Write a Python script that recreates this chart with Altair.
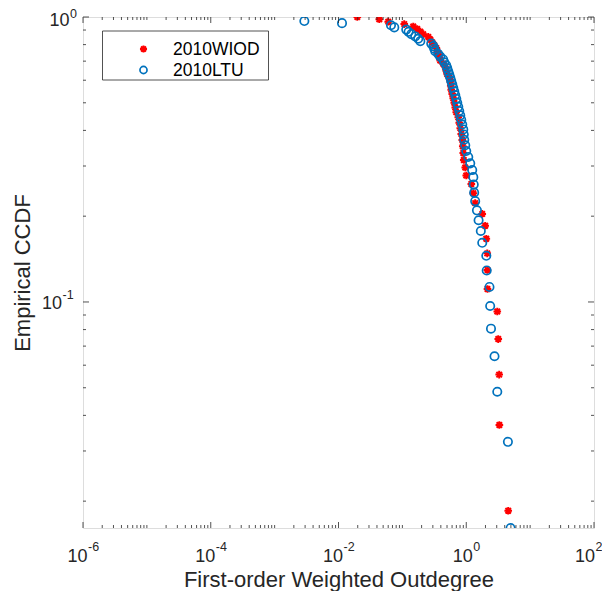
import altair as alt
import pandas as pd

# ---------------- data ----------------
wiod_x = [0.0197, 0.0435, 0.0601, 0.107, 0.148, 0.171, 0.191, 0.212, 0.254, 0.273,
          0.294, 0.316, 0.340, 0.352, 0.365, 0.378, 0.392, 0.436, 0.469, 0.486,
          0.504, 0.542, 0.562, 0.572, 0.582, 0.604, 0.626, 0.649, 0.673, 0.698,
          0.750, 0.777, 0.806, 0.835, 0.866, 0.882, 0.898, 0.914, 0.965, 1.00,
          1.20, 1.29, 1.38, 1.78, 1.98, 2.06, 2.13, 2.14, 2.15, 3.06,
          3.17, 3.28, 3.30, 4.54]
wiod_y = [1.0, 0.9815, 0.9630, 0.9444, 0.9259, 0.9074, 0.8889, 0.8704, 0.8519, 0.8333,
          0.8148, 0.7963, 0.7778, 0.7593, 0.7407, 0.7222, 0.7037, 0.6852, 0.6667, 0.6481,
          0.6296, 0.6111, 0.5926, 0.5741, 0.5556, 0.5370, 0.5185, 0.5000, 0.4815, 0.4630,
          0.4444, 0.4259, 0.4074, 0.3889, 0.3704, 0.3519, 0.3333, 0.3148, 0.2963, 0.2778,
          0.2593, 0.2407, 0.2222, 0.2037, 0.1852, 0.1667, 0.1481, 0.1296, 0.1111, 0.0926,
          0.0741, 0.0556, 0.0370, 0.0185]

ltu_x = [0.00292, 0.01135, 0.0663, 0.0747, 0.115, 0.125, 0.138, 0.159, 0.177, 0.191,
         0.283, 0.305, 0.316, 0.327, 0.365, 0.392, 0.436, 0.453, 0.486, 0.504,
         0.523, 0.542, 0.562, 0.582, 0.604, 0.626, 0.649, 0.673, 0.698, 0.723,
         0.750, 0.777, 0.806, 0.835, 0.866, 0.898, 0.914, 0.930, 0.965, 1.00,
         1.075, 1.155, 1.24, 1.29, 1.31, 1.33, 1.38, 1.47, 1.56, 1.69,
         1.78, 2.06, 2.09, 2.31, 2.37, 2.44, 2.77, 3.06, 4.49, 4.94]
ltu_y = [0.9677, 0.9516, 0.9355, 0.9194, 0.9032, 0.8871, 0.8710, 0.8548, 0.8387, 0.8226,
         0.8065, 0.7903, 0.7742, 0.7581, 0.7419, 0.7258, 0.7097, 0.6935, 0.6774, 0.6613,
         0.6452, 0.6290, 0.6129, 0.5968, 0.5806, 0.5645, 0.5484, 0.5323, 0.5161, 0.5000,
         0.4839, 0.4677, 0.4516, 0.4355, 0.4194, 0.4032, 0.3871, 0.3710, 0.3548, 0.3387,
         0.3226, 0.3065, 0.2903, 0.2742, 0.2581, 0.2419, 0.2258, 0.2097, 0.1935, 0.1774,
         0.1613, 0.1452, 0.1290, 0.1129, 0.0968, 0.0806, 0.0645, 0.0484, 0.0323, 0.0161]

series_names = ["2010WIOD", "2010LTU"]

# tick labels: base "10" with an exponent
x_label_values = [1e-6, 1e-4, 1e-2, 1.0, 1e2]
x_label_exps = ["-6", "-4", "-2", "0", "2"]
y_label_values = [0.1, 1.0]
y_label_exps = ["-1", "0"]

x_title = "First-order Weighted Outdegree"
y_title = "Empirical CCDF"

# ---------------- styling ----------------
W, H = 511, 511
FONT = "Liberation Sans"
INK = "#262626"
RED = "#FF0000"
BLUE = "#0072BD"
ASTERISK = "M0,-1L0,1M-1,0L1,0M-0.72,-0.72L0.72,0.72M-0.72,0.72L0.72,-0.72"
BASE_FS = 18
EXP_FS = 12.5

XDOM = [1e-6, 1e2]
YDOM = [0.0161, 1.0]
xscale = alt.Scale(type="log", domain=XDOM, nice=False)
yscale = alt.Scale(type="log", domain=YDOM, nice=False)

x_axis = alt.Axis(values=x_label_values, labels=False, ticks=False, domain=False, grid=False,
                  title=x_title, titleFont=FONT, titleFontSize=22, titleFontWeight="normal",
                  titleColor=INK, titleX=W / 2, titleY=58, titleBaseline="alphabetic",
                  titleAlign="center")
y_axis = alt.Axis(values=y_label_values, labels=False, ticks=False, domain=False, grid=False,
                  title=y_title, titleFont=FONT, titleFontSize=22, titleFontWeight="normal",
                  titleColor=INK, titleX=-53.5, titleY=H / 2, titleAngle=-90,
                  titleBaseline="alphabetic", titleAlign="center")

X = lambda: alt.X("x:Q", scale=xscale, axis=x_axis, title=x_title)
Y = lambda: alt.Y("y:Q", scale=yscale, axis=y_axis, title=y_title)

df_w = pd.DataFrame({"x": wiod_x, "y": wiod_y, "s": series_names[0]})
df_l = pd.DataFrame({"x": ltu_x, "y": ltu_y, "s": series_names[1]})

red_layer = alt.Chart(df_w).mark_point(shape=ASTERISK, filled=False, stroke=RED,
                                       strokeWidth=2.0, size=58, opacity=1, clip=True).encode(
    x=X(), y=Y())
blue_layer = alt.Chart(df_l).mark_point(shape="circle", filled=False, stroke=BLUE,
                                        strokeWidth=1.7, size=70, opacity=1, clip=True).encode(
    x=X(), y=Y())

# ---------------- inner tick marks (box style) ----------------
x_major = [1e-6, 1e-4, 1e-2, 1.0, 1e2]
x_minor = [m * 10.0 ** e for e in range(-6, 2) for m in range(1, 10)
           if not (m == 1 and 10.0 ** e in x_major)]
y_major = [0.1, 1.0]
y_minor = [m * 10.0 ** e for e in (-2, -1) for m in range(2, 10) if m * 10.0 ** e >= YDOM[0]]


def xticks(vals, length):
    d = pd.DataFrame({"x": vals})
    base = alt.Chart(d).mark_rule(color=INK, strokeWidth=0.8)
    bottom = base.encode(x=X(), y=alt.value(H), y2=alt.value(H - length))
    top = base.encode(x=X(), y=alt.value(0), y2=alt.value(length))
    return [bottom, top]


def yticks(vals, length):
    d = pd.DataFrame({"y": vals})
    base = alt.Chart(d).mark_rule(color=INK, strokeWidth=0.8)
    left = base.encode(y=Y(), x=alt.value(0), x2=alt.value(length))
    right = base.encode(y=Y(), x=alt.value(W), x2=alt.value(W - length))
    return [left, right]


tick_layers = xticks(x_major, 6) + xticks(x_minor, 3) + yticks(y_major, 6) + yticks(y_minor, 3)

# ---------------- tick labels "10" + superscript exponent ----------------
xlab = pd.DataFrame({"x": x_label_values, "e": x_label_exps})
ylab = pd.DataFrame({"y": y_label_values, "e": y_label_exps})
label_layers = []
x_groups = (("datum.e[0] == '-'", 4.5),
            ("datum.e[0] != '-' && datum.x < 50", 6.5),
            ("datum.x >= 50", 1.0))
for cond, shift in x_groups:
    label_layers.append(
        alt.Chart(xlab).transform_filter(cond).mark_text(
            text="10", font=FONT, fontSize=BASE_FS, color=INK, align="right",
            baseline="alphabetic", dx=shift).encode(x=X(), y=alt.value(H + 34)))
    label_layers.append(
        alt.Chart(xlab).transform_filter(cond).mark_text(
            font=FONT, fontSize=EXP_FS, color=INK, align="left",
            baseline="alphabetic", dx=shift + 0.5).encode(x=X(), y=alt.value(H + 23), text="e:N"))
y_groups = (("datum.e[0] == '-'", -21.0, 7.5, -2.5),
            ("datum.e[0] != '-'", -13.5, 9.0, 0.8))
for cond, xr, dy_base, dy_exp in y_groups:
    label_layers.append(
        alt.Chart(ylab).transform_filter(cond).mark_text(
            text="10", font=FONT, fontSize=BASE_FS, color=INK, align="right",
            baseline="alphabetic", dy=dy_base).encode(y=Y(), x=alt.value(xr)))
    label_layers.append(
        alt.Chart(ylab).transform_filter(cond).mark_text(
            font=FONT, fontSize=EXP_FS, color=INK, align="left",
            baseline="alphabetic", dy=dy_exp).encode(y=Y(), x=alt.value(xr + 0.5), text="e:N"))

# ---------------- legend (drawn box) ----------------
one = alt.Data(values=[{"a": 1}])
leg_box = alt.Chart(one).mark_rect(fill="white", stroke=INK, strokeWidth=0.8).encode(
    x=alt.value(19.5), x2=alt.value(185.5), y=alt.value(14), y2=alt.value(63))
leg_red = alt.Chart(one).mark_point(shape=ASTERISK, filled=False, stroke=RED,
                                    strokeWidth=2.0, size=50, opacity=1).encode(
    x=alt.value(60.5), y=alt.value(32))
leg_blue = alt.Chart(one).mark_point(shape="circle", filled=False, stroke=BLUE,
                                     strokeWidth=1.7, size=50, opacity=1).encode(
    x=alt.value(60.5), y=alt.value(53))
leg_t1 = alt.Chart(one).mark_text(text=series_names[0], font=FONT, fontSize=17.5, color="black",
                                  align="left", baseline="middle").encode(
    x=alt.value(90), y=alt.value(32.5))
leg_t2 = alt.Chart(one).mark_text(text=series_names[1], font=FONT, fontSize=17.5, color="black",
                                  align="left", baseline="middle").encode(
    x=alt.value(90), y=alt.value(53.5))

chart = alt.layer(
    red_layer, blue_layer, *tick_layers, *label_layers,
    leg_box, leg_red, leg_blue, leg_t1, leg_t2
).properties(
    width=W, height=H,
    autosize=alt.AutoSizeParams(type="none"),
    padding={"left": 75, "top": 9, "right": 8, "bottom": 63},
).configure_view(stroke=INK, strokeWidth=0.8).configure(background="white")

chart.save("out.html", embed_options={"renderer": "svg", "actions": False})
